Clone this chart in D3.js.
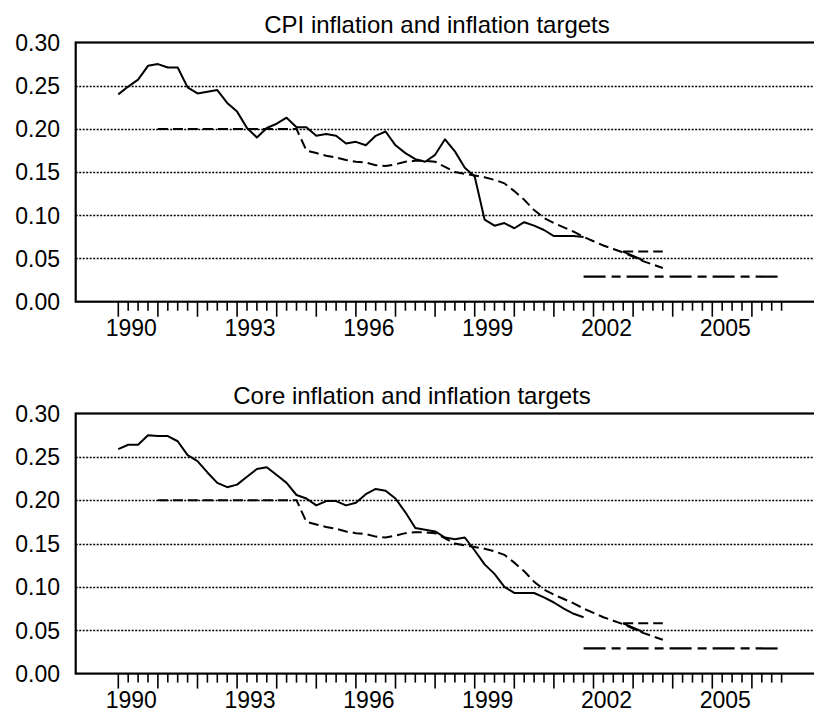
<!DOCTYPE html>
<html>
<head>
<meta charset="utf-8">
<script src="https://cdn.jsdelivr.net/npm/d3@7"></script>
<style>
  body { margin: 0; background: #fff; }
  svg { display: block; font-family: 'Liberation Sans', Arial, sans-serif; }
</style>
</head>
<body>
<svg id="chart" width="814" height="719"></svg>
<script>

// quarterly data, values
var cpiStart = '1990Q1';
var cpiValues = [
  0.240, 0.249, 0.257, 0.273,
  0.275, 0.271, 0.271, 0.248,
  0.241, 0.243, 0.245, 0.230,
  0.220, 0.201, 0.190, 0.201,
  0.206, 0.213, 0.202, 0.202,
  0.192, 0.194, 0.192, 0.183,
  0.185, 0.181, 0.192, 0.197,
  0.181, 0.172, 0.165, 0.162,
  0.170, 0.188, 0.174, 0.155,
  0.145, 0.095, 0.088, 0.091,
  0.085, 0.092, 0.088, 0.083,
  0.076, 0.076, 0.076, 0.075
];

var coreStart = '1990Q1';
var coreValues = [
  0.259, 0.264, 0.264, 0.275,
  0.274, 0.274, 0.268, 0.252,
  0.245, 0.232, 0.220, 0.215,
  0.218, 0.227, 0.236, 0.238,
  0.229, 0.220, 0.206, 0.202,
  0.194, 0.199, 0.199, 0.194,
  0.197, 0.207, 0.213, 0.211,
  0.202, 0.186, 0.168, 0.166,
  0.164, 0.157, 0.155, 0.157,
  0.142, 0.126, 0.115, 0.100,
  0.093, 0.093, 0.093, 0.088,
  0.082, 0.075, 0.069, 0.065
];

var targetStart = '1991Q1';
var targetValues = [
  0.200, 0.200, 0.200, 0.200,
  0.200, 0.200, 0.200, 0.200,
  0.200, 0.200, 0.200, 0.200,
  0.200, 0.200, 0.200, 0.175,
  0.172, 0.169, 0.167, 0.164,
  0.162, 0.161, 0.158, 0.157,
  0.159, 0.162, 0.163, 0.163,
  0.162, 0.156, 0.150, 0.148,
  0.146, 0.144, 0.141, 0.137,
  0.128, 0.118, 0.106, 0.097,
  0.091, 0.086, 0.081, 0.075,
  0.070, 0.065, 0.061, 0.057,
  0.052, 0.047, 0.043, 0.039
];

var bandUpper = [ [ '2002Q4', 0.058 ], [ '2003Q4', 0.058 ] ];
var bandLower = [ [ '2002Q4', 0.058 ], [ '2003Q2', 0.048 ] ];
var longRun = [ [ '2001Q4', 0.029 ], [ '2006Q4', 0.029 ] ];

var yTicks = [ 0, 0.05, 0.10, 0.15, 0.20, 0.25, 0.30 ];
var yGrid = [ 0.05, 0.10, 0.15, 0.20, 0.25 ];
var yearLabels = [ 1990, 1993, 1996, 1999, 2002, 2005 ];
var firstTick = '1990Q1',
  lastTick = '2006Q4';

var titles = [ 'CPI inflation and inflation targets', 'Core inflation and inflation targets' ];

var svg = d3.select( '#chart' );

function q( s ) {
  return +s.slice( 0, 4 ) + ( +s.slice( 5 ) - 1 ) / 4;
}

function toSeries( start, values ) {
  return values.map( ( v, i ) => ( { t: q( start ) + i / 4, v: v } ) );
}

function toPairs( arr ) {
  return arr.map( d => ( { t: q( d[ 0 ] ), v: d[ 1 ] } ) );
}

var x = d3.scaleLinear()
  .domain( [ 1990, 2006.75 ] )
  .range( [ 118.3, 781.6 ] );

var quarters = d3.range( 0, ( q( lastTick ) - q( firstTick ) ) * 4 + 1 )
  .map( i => q( firstTick ) + i / 4 );

function drawPanel( top, bottom, titleX, title, inflation ) {

  var left = 75.7, right = 830;

  var y = d3.scaleLinear()
    .domain( [ 0, 0.30 ] )
    .range( [ bottom, top ] );

  var g = svg.append( 'g' );

  var line = d3.line()
    .x( d => x( d.t ) )
    .y( d => y( d.v ) );

  /* Grid */

  g.selectAll( '.grid' )
    .data( yGrid ).enter().append( 'line' )
      .attr( 'x1', left )
      .attr( 'x2', right )
      .attr( 'y1', d => Math.round( y( d ) ) + 0.5 )
      .attr( 'y2', d => Math.round( y( d ) ) + 0.5 )
      .style( 'stroke', '#000' )
      .style( 'stroke-width', 1.5 )
      .style( 'stroke-dasharray', '2,1.5' );

  /* Lines */

  g.append( 'path' )
    .attr( 'd', line( toSeries( targetStart, targetValues ) ) )
    .style( 'fill', 'none' )
    .style( 'stroke', '#000' )
    .style( 'stroke-width', 2 )
    .style( 'stroke-dasharray', '10,5' );

  g.append( 'path' )
    .attr( 'd', line( toPairs( bandUpper ) ) )
    .style( 'fill', 'none' )
    .style( 'stroke', '#000' )
    .style( 'stroke-width', 2 )
    .style( 'stroke-dasharray', '10,5' );

  g.append( 'path' )
    .attr( 'd', line( toPairs( bandLower ) ) )
    .style( 'fill', 'none' )
    .style( 'stroke', '#000' )
    .style( 'stroke-width', 2 );

  g.append( 'path' )
    .attr( 'd', line( toPairs( longRun ) ) )
    .style( 'fill', 'none' )
    .style( 'stroke', '#000' )
    .style( 'stroke-width', 2.2 )
    .style( 'stroke-dasharray', '22,6,9,6' );

  g.append( 'path' )
    .attr( 'd', line( inflation ) )
    .style( 'fill', 'none' )
    .style( 'stroke', '#000' )
    .style( 'stroke-width', 2 )
    .style( 'stroke-linejoin', 'round' );

  /* Frame */

  g.append( 'rect' )
    .attr( 'x', left )
    .attr( 'y', top )
    .attr( 'width', right - left )
    .attr( 'height', bottom - top )
    .style( 'fill', 'none' )
    .style( 'stroke', '#000' )
    .style( 'stroke-width', 2.2 );

  /* Axes */

  g.selectAll( '.qtick' )
    .data( quarters ).enter().append( 'line' )
      .attr( 'x1', d => x( d ) )
      .attr( 'x2', d => x( d ) )
      .attr( 'y1', bottom )
      .attr( 'y2', ( d, i ) => bottom + ( i % 4 === 0 ? 15 : 9 ) )
      .style( 'stroke', '#000' )
      .style( 'stroke-width', 1.6 );

  g.selectAll( '.xlabel' )
    .data( yearLabels ).enter().append( 'text' )
      .attr( 'x', d => x( d ) + 13 )
      .attr( 'y', bottom + 34 )
      .attr( 'text-anchor', 'middle' )
      .style( 'font-size', '23px' )
      .text( d => d );

  g.selectAll( '.ylabel' )
    .data( yTicks ).enter().append( 'text' )
      .attr( 'x', 60 )
      .attr( 'y', d => y( d ) )
      .attr( 'dy', '0.36em' )
      .attr( 'text-anchor', 'end' )
      .style( 'font-size', '23px' )
      .text( d => d3.format( '.2f' )( d ) );

  g.append( 'text' )
    .attr( 'x', titleX )
    .attr( 'y', top - 10 )
    .attr( 'text-anchor', 'middle' )
    .style( 'font-size', '24px' )
    .text( title );
}

drawPanel( 42.5, 301.7, 437, titles[ 0 ], toSeries( cpiStart, cpiValues ) );
drawPanel( 413.5, 673.6, 412, titles[ 1 ], toSeries( coreStart, coreValues ) );

</script>
</body>
</html>
